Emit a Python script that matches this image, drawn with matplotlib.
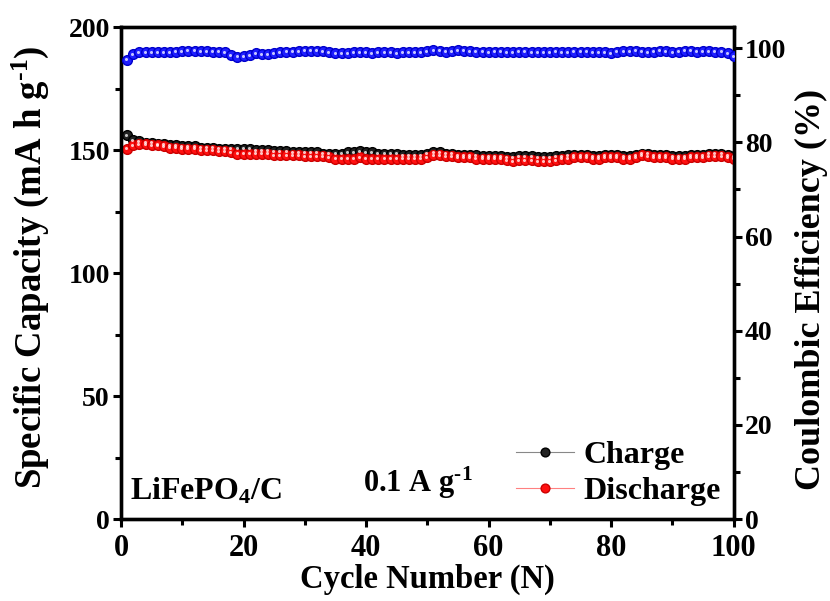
import matplotlib.pyplot as plt
import numpy as np
from matplotlib.ticker import MultipleLocator

plt.rcParams['font.family'] = ['Liberation Serif', 'DejaVu Serif']
plt.rcParams['font.weight'] = 'bold'
plt.rcParams['mathtext.fontset'] = 'custom'
plt.rcParams['mathtext.rm'] = 'Liberation Serif:bold'
plt.rcParams['mathtext.it'] = 'Liberation Serif:bold'
plt.rcParams['mathtext.bf'] = 'Liberation Serif:bold'

cycles = list(range(1, 101))

charge = [
    156.0, 154.0, 153.5, 153.0, 153.0, 152.5, 152.5, 152.0, 152.0, 151.5,
    151.5, 151.5, 151.0, 151.0, 151.0, 150.5, 150.5, 150.5, 150.5, 150.5,
    150.5, 150.0, 150.0, 150.0, 149.5, 149.5, 149.5, 149.0, 149.0, 149.0,
    149.0, 149.0, 148.5, 148.5, 148.5, 148.5, 149.0, 149.0, 149.5, 149.0,
    149.0, 148.5, 148.5, 148.5, 148.5, 148.0, 148.0, 148.0, 148.0, 148.5,
    149.0, 149.0, 148.5, 148.5, 148.0, 148.0, 148.0, 148.0, 147.5, 147.5,
    147.5, 147.5, 147.0, 147.0, 147.5, 147.5, 147.5, 147.0, 147.0, 147.0,
    147.5, 147.5, 148.0, 148.0, 148.0, 148.0, 147.5, 147.5, 148.0, 148.0,
    148.0, 147.5, 147.5, 148.0, 148.5, 148.5, 148.0, 148.0, 148.0, 147.5,
    147.5, 147.5, 148.0, 148.0, 148.0, 148.5, 148.5, 148.5, 148.0, 147.5,
]

discharge = [
    150.5, 152.0, 152.5, 152.5, 152.0, 152.0, 151.5, 151.0, 151.0, 150.5,
    150.5, 150.5, 150.0, 150.0, 150.0, 149.5, 149.5, 149.0, 148.5, 148.5,
    148.5, 148.5, 148.5, 148.5, 148.0, 148.0, 148.0, 148.0, 148.0, 147.5,
    147.5, 147.5, 147.5, 147.0, 146.5, 146.5, 146.5, 146.5, 147.0, 146.5,
    146.5, 146.5, 146.5, 146.5, 146.5, 146.5, 146.5, 146.5, 146.5, 147.0,
    148.0, 148.0, 147.5, 147.5, 147.0, 147.0, 147.0, 146.5, 146.5, 146.5,
    146.5, 146.5, 146.0, 145.5, 146.0, 146.0, 146.0, 145.5, 145.5, 145.5,
    146.0, 146.5, 146.5, 147.0, 147.0, 147.0, 146.5, 146.5, 147.0, 147.0,
    147.0, 146.5, 146.5, 147.0, 148.0, 147.5, 147.0, 147.0, 147.0, 146.5,
    146.5, 146.5, 147.0, 147.0, 147.0, 147.5, 147.5, 147.5, 147.0, 146.5,
]

efficiency = [
    97.6, 98.8, 99.1, 99.2, 99.2, 99.1, 99.2, 99.2, 99.3, 99.4,
    99.5, 99.5, 99.4, 99.4, 99.3, 99.3, 99.1, 98.6, 98.2, 98.3,
    98.6, 98.9, 98.8, 98.8, 99.0, 99.2, 99.3, 99.3, 99.4, 99.5,
    99.5, 99.5, 99.4, 99.1, 98.9, 98.9, 99.0, 99.2, 99.1, 99.1,
    99.0, 99.2, 99.2, 99.1, 99.0, 99.1, 99.2, 99.1, 99.1, 99.4,
    99.6, 99.5, 99.3, 99.4, 99.6, 99.5, 99.4, 99.3, 99.3, 99.2,
    99.3, 99.3, 99.2, 99.2, 99.3, 99.3, 99.2, 99.2, 99.1, 99.2,
    99.3, 99.2, 99.2, 99.3, 99.3, 99.3, 99.2, 99.2, 99.1, 98.9,
    99.3, 99.4, 99.4, 99.5, 99.3, 99.2, 99.3, 99.5, 99.4, 99.2,
    99.3, 99.5, 99.5, 99.3, 99.4, 99.4, 99.3, 99.3, 99.0, 98.3,
]

fig = plt.figure(figsize=(8.3, 6.01), dpi=100)
ax = fig.add_axes([0.1458, 0.1364, 0.7382, 0.8186])
ax2 = ax.twinx()


def balls(axis, x, y, face, edge, line, label=None):
    axis.plot(x, y, '-', color=line, lw=0.8, marker='o', ms=7,
              mfc=face, mec=edge, mew=1.0, label=label, zorder=3)
    axis.plot(np.array(x) - 0.15, np.array(y) + 0.15 * (1 if axis is ax else 0.45),
              'o', ms=2.2, color='white', alpha=0.75, mew=0, zorder=4)


balls(ax, cycles, charge, '#222222', '#000000', '#888888', 'Charge')
balls(ax, cycles, discharge, '#ff1010', '#cc0000', '#ff8080', 'Discharge')
balls(ax2, cycles, efficiency, '#1f1fff', '#0000cc', '#6060ff')

ax.set_xlim(0, 100)
ax.set_ylim(0, 200)
ax2.set_ylim(0, 104.5)

ax.xaxis.set_major_locator(MultipleLocator(20))
ax.xaxis.set_minor_locator(MultipleLocator(10))
ax.yaxis.set_major_locator(MultipleLocator(50))
ax.yaxis.set_minor_locator(MultipleLocator(25))
ax2.yaxis.set_major_locator(MultipleLocator(20))
ax2.yaxis.set_minor_locator(MultipleLocator(10))

for a in (ax, ax2):
    for s in a.spines.values():
        s.set_linewidth(2.4)
    a.tick_params(which='major', direction='out', length=6, width=2.2,
                  labelsize=20, pad=2)
    a.tick_params(which='minor', direction='out', length=4, width=2.2)
ax.tick_params(axis='x', labelsize=22, pad=5)

ax.set_xlabel('Cycle Number (N)', fontsize=23.5, fontweight='bold', labelpad=0)
ax.set_ylabel(r'Specific Capacity (mA h g$^{\text{-}1}$)', fontsize=26.5,
              fontweight='bold')
ax.yaxis.set_label_coords(-0.115, 0.512)
ax2.set_ylabel('Coulombic Efficiency (%)', fontsize=26, fontweight='bold')
ax2.yaxis.set_label_coords(1.10, 0.467)

ax.text(1.5, 8, 'LiFePO$_4$/C', fontsize=23, fontweight='bold')
ax.text(39.5, 11, r'0.1 A g$^{\text{-}1}$', fontsize=22, fontweight='bold')

leg = ax.legend(loc='lower right', frameon=False, fontsize=23,
                handlelength=1.8, handletextpad=0.3, borderaxespad=0.0,
                labelspacing=0.2, markerscale=0.9)

fig.savefig('out.png', dpi=100)
